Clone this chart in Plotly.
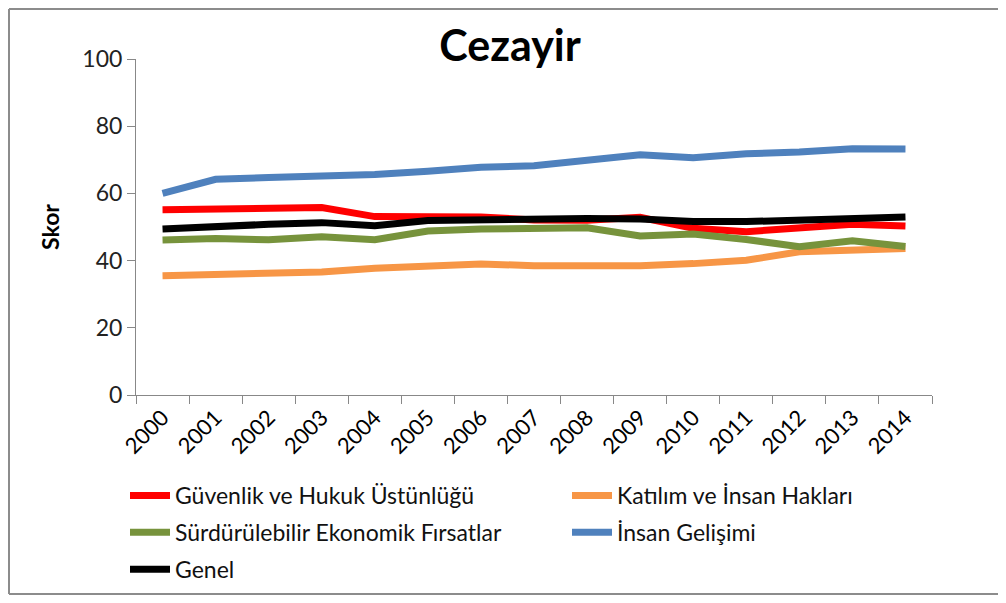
import plotly.graph_objects as go

years = [str(y) for y in range(2000, 2015)]

guvenlik = [55.1, 55.3, 55.7, 55.8, 53.1, 52.9, 53.0, 52.1, 52.0, 52.9, 49.6, 48.6, 49.6, 50.8, 50.3]
katilim = [35.5, 36.0, 36.4, 36.6, 37.7, 38.3, 39.0, 38.5, 38.5, 38.5, 39.1, 40.1, 42.6, 43.1, 43.6]
surdurulebilir = [46.1, 46.6, 46.2, 47.1, 46.2, 48.8, 49.4, 49.8, 49.8, 47.3, 47.9, 46.3, 44.1, 45.9, 44.2]
insan = [60.0, 64.2, 64.7, 65.1, 65.6, 66.6, 67.8, 68.2, 69.8, 71.5, 70.6, 71.8, 72.3, 73.3, 73.2]
genel = [49.4, 50.3, 50.8, 51.3, 50.4, 51.9, 52.2, 52.2, 52.5, 52.4, 51.6, 51.6, 52.1, 53.0, 53.0]

series_names = ["Güvenlik ve Hukuk Üstünlüğü", "Katılım ve İnsan Hakları",
                "Sürdürülebilir Ekonomik Fırsatlar", "İnsan Gelişimi", "Genel"]
series_vals = [guvenlik, katilim, surdurulebilir, insan, genel]
colors = ["#FF0000", "#F79646", "#77933C", "#4F81BD", "#000000"]
legend_ids = ["legend", "legend2", "legend", "legend2", "legend"]

FONT = "Lato"
OFF = 8  # page body margin

fig = go.Figure()
for i, (name, vals, col, lg) in enumerate(zip(series_names, series_vals, colors, legend_ids)):
    fig.add_trace(go.Scatter(
        x=years, y=vals, name=name, mode="lines",
        line=dict(color=col, width=7),
        legend=lg, legendgroup=f"g{i}",
    ))

# plot area in page pixels: x 136..932, y 59..395
L, R, T, B = 136 - OFF, 932 - OFF, 59 - OFF, 395 - OFF
W, H = 1006 - 2 * OFF, 603 - 2 * OFF
def px_x(p):
    return (p - OFF - L) / (R - L)
def px_y(p):
    return (B - (p - OFF)) / (B - T)

border = dict(color="#8C8C8C", width=2)
bx0, bx1, by0, by1 = px_x(9), px_x(1000), px_y(594), px_y(9)

fig.update_layout(
    width=W, height=H,
    margin=dict(l=L, r=W - R, t=T, b=H - B, autoexpand=False),
    paper_bgcolor="white", plot_bgcolor="white",
    font=dict(family=FONT, color="#000000"),
    title=dict(text="<b>Cezayir</b>", x=(510 - OFF) / W, xanchor="center",
               y=1 - (46 - OFF) / H, yanchor="middle",
               font=dict(size=43, family=FONT, color="#000000")),
    xaxis=dict(
        type="category", showgrid=False, zeroline=False,
        showline=True, linecolor="#888888", linewidth=1,
        ticks="outside", tickcolor="#888888", ticklen=8, tickson="boundaries",
        tickangle=-45, tickfont=dict(size=22, family=FONT, color="#000000"),
        range=[-0.5, 14.5],
    ),
    yaxis=dict(
        range=[0, 100], tickvals=[0, 20, 40, 60, 80, 100],
        showgrid=False, zeroline=False,
        showline=True, linecolor="#888888", linewidth=1,
        ticks="outside", tickcolor="#888888", ticklen=8,
        tickfont=dict(size=23, family=FONT, color="#222222"),
        title=dict(text="<b>Skor</b>", font=dict(size=23, family=FONT, color="#000000"), standoff=16),
    ),
    legend=dict(
        orientation="v", x=px_x(125), xanchor="left", y=px_y(474), yanchor="top",
        font=dict(size=23, family=FONT, color="#111111"), tracegroupgap=4,
        bgcolor="rgba(0,0,0,0)", itemwidth=40,
    ),
    legend2=dict(
        orientation="v", x=px_x(567), xanchor="left", y=px_y(474), yanchor="top",
        font=dict(size=23, family=FONT, color="#111111"), tracegroupgap=4,
        bgcolor="rgba(0,0,0,0)", itemwidth=40,
    ),
    shapes=[
        dict(type="line", xref="paper", yref="paper", x0=bx0, x1=bx0, y0=by0, y1=by1, line=border, layer="below"),
        dict(type="line", xref="paper", yref="paper", x0=bx0, x1=bx1, y0=by1, y1=by1, line=border, layer="below"),
        dict(type="line", xref="paper", yref="paper", x0=bx0, x1=bx1, y0=by0, y1=by0, line=border, layer="below"),
    ],
)

fig.write_html("out.html")
